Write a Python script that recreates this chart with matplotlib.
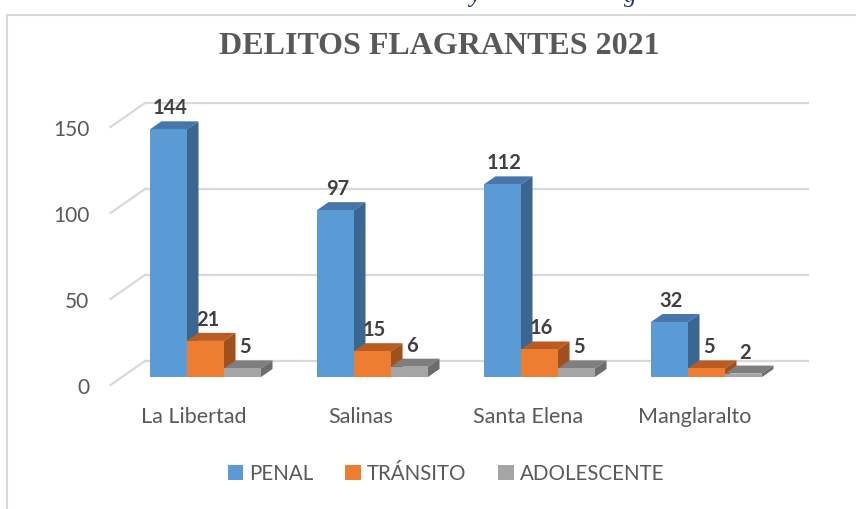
import matplotlib
matplotlib.use("Agg")
import matplotlib.pyplot as plt
from matplotlib.patches import Polygon, Patch
from matplotlib.lines import Line2D

categories = ["La Libertad", "Salinas", "Santa Elena", "Manglaralto"]
series_names = ["PENAL", "TRÁNSITO", "ADOLESCENTE"]
penal = [144, 97, 112, 32]
transito = [21, 15, 16, 5]
adolescente = [5, 6, 5, 2]
y_ticks = [0, 50, 100, 150]
title = "DELITOS FLAGRANTES 2021"

series = [penal, transito, adolescente]
front_colors = ["#5B9BD5", "#ED7D31", "#A5A5A5"]
top_colors = ["#4676AA", "#BA5C22", "#7E7E7E"]
side_colors = ["#3A6690", "#A0501C", "#6C6C6C"]
text_color = "#595959"
label_color = "#404040"
grid_color = "#D9D9D9"
sans = ["Lato", "DejaVu Sans"]

W, H, DPI = 856, 509, 100
fig = plt.figure(figsize=(W / DPI, H / DPI), dpi=DPI)
fig.patch.set_facecolor("white")

ax_l, ax_r, ax_b, ax_t = 122, 785, 377, 119
ax = fig.add_axes([ax_l / W, 1 - ax_b / H, (ax_r - ax_l) / W, (ax_b - ax_t) / H])
x0, x1 = -0.5, 3.47
y0, y1 = 0, 150
ax.set_xlim(x0, x1)
ax.set_ylim(y0, y1)
ax.axis("off")

ppx = (ax_r - ax_l) / (x1 - x0)
ppy = (ax_b - ax_t) / (y1 - y0)
DPX, DPY = 11.5, 8.0
ddx, ddy = DPX / ppx, DPY / ppy

# back wall gridlines and side diagonals
for v in y_ticks:
    ax.plot([x0 + 2 * ddx, x1 + 2 * ddx], [v + 2 * ddy] * 2, color=grid_color,
            lw=1.6, clip_on=False, zorder=1)
    ax.plot([x0 - ddx, x0 + 2 * ddx], [v - ddy, v + 2 * ddy], color=grid_color,
            lw=1.6, clip_on=False, zorder=1)
    ax.annotate(str(v), xy=(x0 - ddx, v - ddy), xytext=(-21, -3),
                textcoords="offset pixels", ha="right", va="center",
                fontsize=15, color=text_color, family=sans, annotation_clip=False)

w = 0.2216
for i, cat in enumerate(categories):
    for j, vals in enumerate(series):
        v = vals[i]
        left = i + (j - 1.5) * w
        z = 3 + j
        ax.bar(left, v, width=w, align="edge", color=front_colors[j],
               zorder=z + 0.2, clip_on=False)
        top = Polygon([(left, v), (left + w, v), (left + w + ddx, v + ddy), (left + ddx, v + ddy)],
                      closed=True, facecolor=top_colors[j], edgecolor="none", zorder=z, clip_on=False)
        side = Polygon([(left + w, 0), (left + w + ddx, ddy), (left + w + ddx, v + ddy), (left + w, v)],
                       closed=True, facecolor=side_colors[j], edgecolor="none", zorder=z, clip_on=False)
        ax.add_patch(top)
        ax.add_patch(side)
        ax.annotate(str(v), xy=(left + w / 2, v), xytext=(2, 15), textcoords="offset pixels",
                    ha="center", va="baseline", fontsize=14.5, fontweight="bold",
                    color=label_color, family=sans, zorder=10, annotation_clip=False)
    ax.annotate(cat, xy=(i - ddx, -ddy), xytext=(0, -32), textcoords="offset pixels",
                ha="center", va="center", fontsize=15.5, color=text_color, family=sans,
                annotation_clip=False)

# title
fig.text(439 / W, 1 - 47 / H, title, ha="center", va="center", fontsize=23,
         fontweight="bold", color=text_color, family=["Liberation Serif", "DejaVu Serif"])

# legend
handles = [Patch(facecolor=c, edgecolor="none") for c in front_colors]
leg = fig.legend(handles, series_names, loc="center", bbox_to_anchor=(446 / W, 1 - 474 / H),
                 ncol=3, frameon=False, handlelength=0.75, handleheight=0.75,
                 handletextpad=0.3, columnspacing=1.55,
                 prop={"family": sans, "size": 14.8})
for t in leg.get_texts():
    t.set_color(text_color)

# chart frame
fig.add_artist(Line2D([7.5 / W, 7.5 / W], [0, 1 - 15 / H], color=grid_color, lw=1.5))
fig.add_artist(Line2D([7.5 / W, 1], [1 - 15 / H, 1 - 15 / H], color=grid_color, lw=1.5))

# clipped caption fragments above the chart frame (cut off in the reference as well)
for xp, ch in [(475, "y"), (630, "g")]:
    fig.text(xp / W, 1 - 2 / H, ch, ha="center", va="baseline", fontsize=18,
             style="italic", color="#1F3864", family=["Liberation Serif", "DejaVu Serif"])

fig.savefig("out.png", dpi=DPI)
